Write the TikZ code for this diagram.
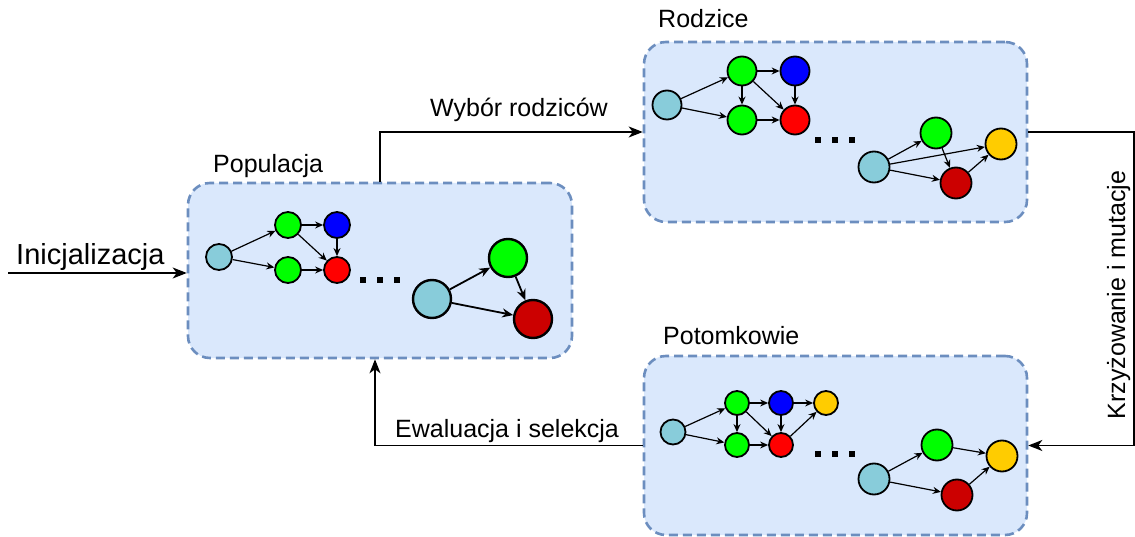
\documentclass[tikz,border=0pt]{standalone}
\usepackage{fontspec}
\setmainfont{Liberation Sans}
\usepackage{tikz}
\usetikzlibrary{positioning}
\usetikzlibrary{arrows.meta,calc}
\definecolor{boxfill}{HTML}{DAE8FC}
\definecolor{boxline}{HTML}{6C8EBF}
\definecolor{nlblue}{HTML}{88CCDA}
\definecolor{ngreen}{HTML}{00FF00}
\definecolor{nblue}{HTML}{0000FF}
\definecolor{nred}{HTML}{FF0000}
\definecolor{ndred}{HTML}{CC0000}
\definecolor{nyellow}{HTML}{FFCC00}
\tikzstyle{group} = [draw=boxline, fill=boxfill, line width=2.6pt, dash pattern=on 9pt off 5pt, rounded corners=22pt]
\tikzstyle{arrow} = [line width=1.8pt,-{Stealth[length=14pt,width=11pt,inset=4pt]}]

\begin{document}
\begin{tikzpicture}[x=1pt,y=-1pt,
				vtx/.style = {circle, draw, line width=1.8pt, inner sep=0pt, minimum size=#1},
				vtx/.default = 26pt,
				edge/.style = {line width=1.2pt, -{Stealth[length=8pt,width=7pt]}},
				bigedge/.style = {line width=1.8pt, -{Stealth[length=11pt,width=9pt]}},
				lbl/.style = {font=\fontsize{25}{30}\selectfont, anchor=base west, inner sep=0pt},
				]
				\useasboundingbox (0,0) rectangle (1135,537);
				% groups
				\node[group, minimum width=384pt, minimum height=175pt] (pop) at (380,270.5) {};
				\node[group, minimum width=383pt, minimum height=180pt] (par) at (835.5,132) {};
				\node[group, minimum width=383pt, minimum height=179pt] (off) at (835.5,445.5) {};
				\node[lbl] (tpop) at (213,173) {Populacja};
				\node[lbl] (tpar) at (658,28) {Rodzice};
				\node[lbl] (toff) at (663,344) {Potomkowie};
				% population
				\node[vtx, fill=nlblue] (pa) at (219,257) {};
				\node[vtx, fill=ngreen] (pb) at (288,225) {};
				\node[vtx, fill=nblue] (pc) at (337,225) {};
				\node[vtx, fill=ngreen] (pd) at (288,270) {};
				\node[vtx, fill=nred] (pe) at (337,270) {};
				\node[vtx=38pt, fill=nlblue, line width=2.4pt] (pf) at (432,299) {};
				\node[vtx=38pt, fill=ngreen, line width=2.4pt] (pg) at (508,258) {};
				\node[vtx=38pt, fill=ndred, line width=2.4pt] (ph) at (533,319) {};
				\foreach \a/\b in {pa/pb,pa/pd,pb/pc,pb/pe,pd/pe,pc/pe}
				\draw[edge] (\a) -- (\b);
				\foreach \a/\b in {pf/pg,pf/ph,pg/ph}
				\draw[bigedge] (\a) -- (\b);
				\foreach \x in {363,380,397}
				\fill (\x-2.75,277.25) rectangle +(5.5,5.5);
				% parents
				\node[vtx=29pt, fill=nlblue] (ra) at (667,105) {};
				\node[vtx=29pt, fill=ngreen] (rb) at (742,71) {};
				\node[vtx=29pt, fill=nblue] (rc) at (795,71) {};
				\node[vtx=29pt, fill=ngreen] (rd) at (742,120) {};
				\node[vtx=29pt, fill=nred] (re) at (795,120) {};
				\node[vtx=31pt, fill=nlblue] (rf) at (874,167) {};
				\node[vtx=31pt, fill=ngreen] (rg) at (936,133) {};
				\node[vtx=31pt, fill=nyellow] (rh) at (1001,144) {};
				\node[vtx=31pt, fill=ndred] (ri) at (956,183) {};
				\foreach \a/\b in {ra/rb,ra/rd,rb/rd,rb/rc,rb/re,rc/re,rd/re,rf/rg,rf/rh,rf/ri,rg/ri,ri/rh}
				\draw[edge] (\a) -- (\b);
				\foreach \x in {818,835,852}
				\fill (\x-2.75,137.25) rectangle +(5.5,5.5);
				% offspring
				\node[vtx=25pt, fill=nlblue] (oa) at (673,432) {};
				\node[vtx=24pt, fill=ngreen] (ob) at (737,403) {};
				\node[vtx=24pt, fill=nblue] (oc) at (781,403) {};
				\node[vtx=24pt, fill=nyellow] (od) at (826,403) {};
				\node[vtx=24pt, fill=ngreen] (oe) at (737,445) {};
				\node[vtx=24pt, fill=nred] (of) at (781,445) {};
				\node[vtx=31pt, fill=nlblue] (og) at (874,479) {};
				\node[vtx=31pt, fill=ngreen] (oh) at (937,445) {};
				\node[vtx=31pt, fill=nyellow] (oi) at (1002,456) {};
				\node[vtx=31pt, fill=ndred] (oj) at (957,495) {};
				\foreach \a/\b in {oa/ob,oa/oe,ob/oc,ob/oe,ob/of,oc/od,oc/of,oe/of,of/od,og/oh,og/oj,oh/oi,oj/oi}
				\draw[edge] (\a) -- (\b);
				\foreach \x in {818,835,852}
				\fill (\x-2.75,451.25) rectangle +(5.5,5.5);
				% cycle
				\coordinate (start) at (8,273);
				\coordinate (rim) at (1134,0);
				\coordinate (back) at (375,0);
				\node[lbl, font=\fontsize{29}{34}\selectfont] (tini) at (16,265) {Inicjalizacja};
				\draw[arrow] (start) -- (start -| pop.west);
				\node[lbl] (twyb) at (430,117) {Wybór rodziców};
				\draw[arrow] (pop.north) |- (par.west);
				\draw[arrow] (par.east) -- (par.east -| rim) -- (off.east -| rim) -- (off.east);
				\node[lbl, anchor=base, rotate=90] (tkrz) at (1125,295) {Krzyżowanie i mutacje};
				\node[lbl] (tewa) at (395,437) {Ewaluacja i selekcja};
				\draw[arrow] (off.west) -| (back |- pop.south);
			\end{tikzpicture}
\end{document}
